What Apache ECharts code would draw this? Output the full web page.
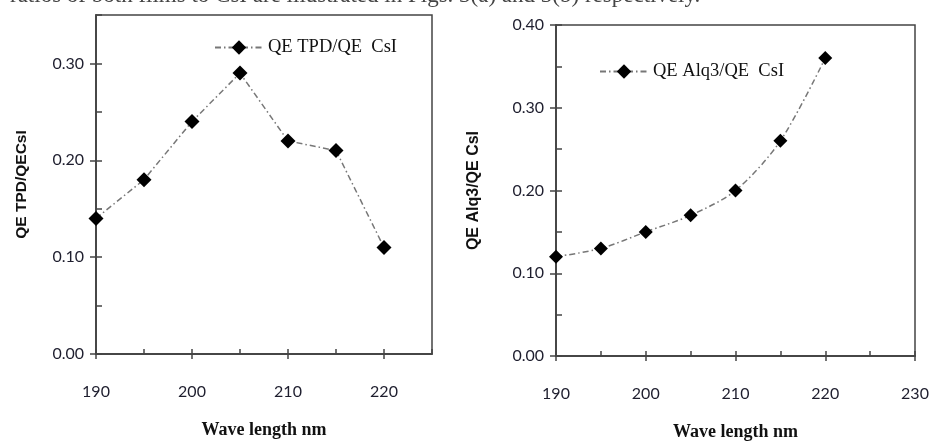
<!DOCTYPE html>
<html>
<head>
<meta charset="utf-8">
<script src="https://cdn.jsdelivr.net/npm/echarts@6/dist/echarts.min.js"></script>
<style>
html,body{margin:0;padding:0;background:#fff;}
#c{width:932px;height:441px;}
</style>
</head>
<body>
<div id="c"></div>
<script>
// ---- data ----
const wavelengths = [190, 195, 200, 205, 210, 215, 220];
const tpdRatio = [0.14, 0.18, 0.24, 0.29, 0.22, 0.21, 0.11];
const alqRatio = [0.12, 0.13, 0.15, 0.17, 0.20, 0.26, 0.36];
const seriesNames = ['QE TPD/QE  CsI', 'QE Alq3/QE  CsI'];
const yTitles = ['QE TPD/QECsI', 'QE Alq3/QE CsI'];
const xTitle = 'Wave length nm';
const captionText = 'ratios of both films to CsI are illustrated in Figs. 3(a) and 3(b) respectively.';

const pairs = (ys) => wavelengths.map((w, i) => [w, ys[i]]);

const axisColor = '#444';
const labelFont = {fontFamily: 'Lato', fontSize: 16, color: '#1e1e2e'};

function xAxes(gridIndex, max) {
  const base = {
    type: 'value', gridIndex, min: 190, max, interval: 10, position: 'bottom',
    splitLine: {show: false},
    axisLine: {onZero: false, lineStyle: {color: axisColor, width: 1.5}}
  };
  return [
    Object.assign({}, base, {
      axisTick: {show: true, inside: false, length: 5, lineStyle: {color: axisColor, width: 1.5}},
      axisLabel: Object.assign({margin: 30, showMaxLabel: max === 230}, labelFont),
      name: xTitle, nameLocation: 'middle', nameGap: 67,
      nameTextStyle: {fontFamily: 'Liberation Serif', fontWeight: 'bold', fontSize: 18, color: '#111'}
    }),
    Object.assign({}, base, {
      axisTick: {show: true, inside: true, length: 5, lineStyle: {color: axisColor, width: 1.5}},
      minorTick: {show: true, splitNumber: 2, length: 5, lineStyle: {color: axisColor, width: 1.5}},
      axisLabel: {show: false}
    })
  ];
}
function yAxes(gridIndex, max, title, gap, fs) {
  const base = {
    type: 'value', gridIndex, min: 0, max, interval: 0.1, position: 'left',
    splitLine: {show: false},
    axisLine: {onZero: false, lineStyle: {color: axisColor, width: 1.5}}
  };
  return [
    Object.assign({}, base, {
      axisTick: {show: true, inside: false, length: 6, lineStyle: {color: axisColor, width: 1.5}},
      axisLabel: Object.assign({margin: 12, formatter: v => v.toFixed(2), showMaxLabel: max === 0.4}, labelFont),
      name: title, nameLocation: 'middle', nameGap: gap, nameRotate: 90,
      nameTextStyle: {fontFamily: 'Liberation Sans', fontWeight: 'bold', fontSize: fs, color: '#111'}
    }),
    Object.assign({}, base, {
      axisTick: {show: true, inside: true, length: 6, lineStyle: {color: axisColor, width: 1.5}},
      minorTick: {show: true, splitNumber: 2, length: 6, lineStyle: {color: axisColor, width: 1.5}},
      axisLabel: {show: false}
    })
  ];
}

const lineStyle = {color: '#777', width: 1.5, type: [6, 3, 1.5, 3]};
const itemStyle = {color: '#000'};

const chart = echarts.init(document.getElementById('c'));
chart.setOption({
  animation: false,
  backgroundColor: '#fff',
  grid: [
    {left: 96, right: 500, top: 15, bottom: 87, show: true, borderColor: axisColor, borderWidth: 1.5,
     outerBoundsMode: 'none', containLabel: false},
    {left: 556, right: 17, top: 25, bottom: 85, show: true, borderColor: axisColor, borderWidth: 1.5,
     outerBoundsMode: 'none', containLabel: false}
  ],
  xAxis: [...xAxes(0, 225), ...xAxes(1, 230)],
  yAxis: [...yAxes(0, 0.35, yTitles[0], 66, 15.5), ...yAxes(1, 0.4, yTitles[1], 74, 16)],
  legend: [
    {data: [seriesNames[0]], left: 209, top: 33, itemWidth: 48, itemHeight: 18, itemGap: 10,
     textStyle: {fontFamily: 'Liberation Serif', fontSize: 18.5, color: '#111'}},
    {data: [seriesNames[1]], left: 594, top: 57, itemWidth: 48, itemHeight: 18, itemGap: 10,
     textStyle: {fontFamily: 'Liberation Serif', fontSize: 18.5, color: '#111'}}
  ],
  graphic: [{
    type: 'text', left: 10, top: -16, silent: true,
    style: {text: captionText, fontFamily: 'Liberation Serif', fontSize: 23, fill: '#444'}
  }],
  series: [
    {name: seriesNames[0], type: 'line', xAxisIndex: 0, yAxisIndex: 0, data: pairs(tpdRatio),
     symbol: 'diamond', symbolSize: 15, lineStyle, itemStyle},
    {name: seriesNames[1], type: 'line', xAxisIndex: 2, yAxisIndex: 2, data: pairs(alqRatio),
     smooth: 0.3, symbol: 'diamond', symbolSize: 14, lineStyle, itemStyle}
  ]
});
</script>
</body>
</html>
